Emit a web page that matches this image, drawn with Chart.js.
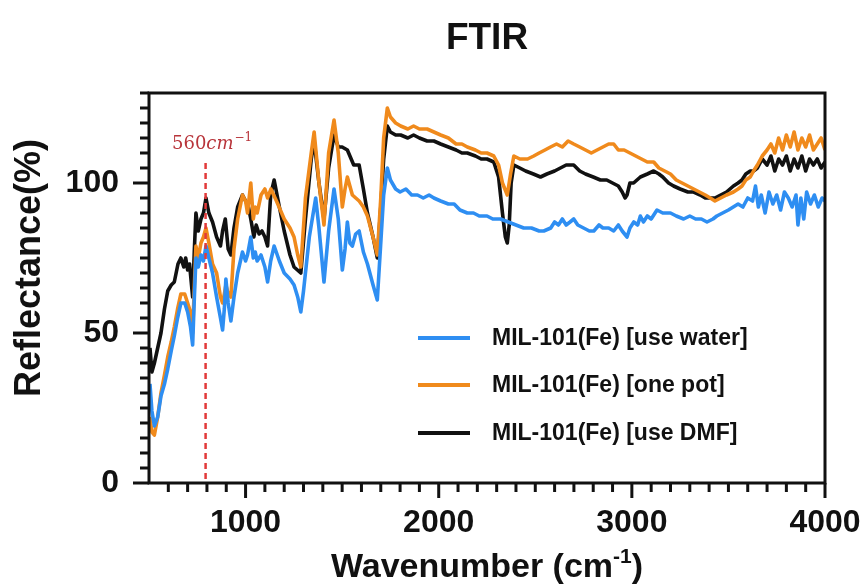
<!DOCTYPE html>
<html>
<head>
<meta charset="utf-8">
<script src="https://cdn.jsdelivr.net/npm/chart.js@4"></script>
<style>
  html, body { margin: 0; padding: 0; background: #ffffff; }
  #wrap { width: 865px; height: 584px; }
</style>
</head>
<body>
<div id="wrap"><canvas id="c" width="865" height="584"></canvas></div>
<script>
// ---------------- DATA ----------------
const chartTitle = "FTIR";
const xAxisTitle = "Wavenumber (cm";
const xAxisTitleSup = "-1";
const yAxisTitle = "Reflectance(%)";
const seriesLabels = ["MIL-101(Fe) [use water]", "MIL-101(Fe) [one pot]", "MIL-101(Fe) [use DMF]"];
const seriesColors = ["#2e8ef2", "#f08a1c", "#111111"];
const xTickLabels = [1000, 2000, 3000, 4000];
const yTickLabels = [0, 50, 100];
const markerWave = 793;
const markerLabel = ["560", "cm", "\u22121"];

const waterWave = [505,515,528,545,562,580,597,615,631,648,665,685,700,715,726,735,743,755,769,782,795,810,829,850,870,881,890,898,910,924,940,959,984,1000,1010,1027,1040,1050,1060,1080,1100,1114,1130,1148,1175,1200,1230,1251,1270,1286,1300,1330,1363,1380,1406,1430,1458,1480,1501,1515,1527,1540,1553,1570,1588,1610,1631,1660,1682,1700,1715,1734,1750,1777,1800,1830,1860,1890,1920,1950,1975,2010,2050,2080,2110,2148,2180,2210,2250,2280,2320,2360,2400,2440,2480,2520,2544,2580,2600,2620,2640,2660,2680,2699,2720,2750,2780,2803,2830,2850,2880,2906,2930,2950,2975,2990,3010,3030,3044,3060,3080,3100,3130,3160,3200,3230,3268,3300,3330,3360,3389,3420,3440,3470,3500,3525,3550,3575,3600,3625,3640,3655,3670,3690,3710,3730,3750,3770,3790,3810,3830,3850,3860,3875,3890,3905,3925,3945,3965,3985,4000];
const waterVals = [33,24,19,22,29,33,38,44,49,55,60,60,57,52,46,62,75,72,76,74,79,75,70,62,55,51,58,68,60,54,62,70,77,74,76,82,75,77,74,76,72,67,74,79,74,70,68,66,62,57,64,82,95,85,67,84,98,88,71,78,87,80,79,83,84,77,73,66,61,80,96,105,101,98,97,98,96,96,95,96,95,94,93,93,91,90,90,89,89,88,88,87,86,85,85,84,84,85,87,86,88,86,87,88,86,85,84,84,86,85,85,84,86,84,82,85,87,86,89,87,89,88,91,90,90,89,88,89,88,88,87,88,89,90,91,92,93,92,95,94,99,92,96,90,97,93,96,91,97,95,92,96,86,95,88,97,93,96,92,95,94];

const onePotWave = [505,515,528,545,562,580,597,615,631,648,665,685,700,715,726,735,743,755,769,782,795,810,829,850,870,881,890,898,910,924,940,959,984,1000,1010,1027,1040,1050,1060,1080,1100,1114,1131,1160,1200,1230,1251,1270,1286,1310,1340,1355,1380,1406,1430,1458,1480,1501,1515,1527,1553,1588,1610,1631,1660,1682,1700,1715,1734,1750,1777,1803,1840,1870,1900,1940,1975,2010,2050,2090,2120,2148,2190,2220,2250,2285,2310,2330,2355,2372,2389,2420,2460,2492,2520,2550,2579,2610,2640,2670,2699,2730,2760,2790,2820,2850,2880,2906,2930,2960,2990,3020,3050,3080,3113,3140,3170,3200,3230,3260,3290,3320,3350,3380,3406,3430,3460,3490,3526,3550,3570,3590,3613,3630,3650,3675,3700,3720,3740,3760,3780,3800,3820,3840,3860,3880,3900,3920,3940,3960,3980,4000];
const onePotVals = [22,17,16,22,30,36,42,47,52,58,63,63,60,57,50,66,79,75,80,82,85,80,73,70,62,60,63,66,63,62,78,88,96,94,90,100,88,92,90,96,98,95,98,94,88,85,82,76,72,95,110,117,100,86,110,121,110,92,98,102,96,94,92,89,82,76,95,115,125,122,120,119,118,119,118,118,117,116,115,113,113,112,111,110,110,109,106,100,96,103,109,108,108,109,110,111,112,113,112,114,113,112,111,110,111,112,113,113,111,111,110,109,108,107,107,105,104,103,101,100,99,98,97,96,95,94,95,96,97,98,99,101,102,104,106,109,111,113,110,115,111,116,112,117,111,115,112,116,111,113,115,111];

const dmfWave = [505,515,528,545,562,580,597,615,631,650,665,680,690,700,710,726,735,743,755,769,782,795,810,829,850,870,881,895,910,924,940,959,984,1000,1015,1027,1043,1055,1070,1085,1100,1114,1130,1148,1175,1200,1230,1251,1286,1310,1340,1355,1380,1406,1430,1458,1480,1500,1527,1560,1588,1610,1631,1660,1682,1700,1715,1734,1750,1777,1803,1840,1870,1900,1940,1975,2010,2050,2090,2120,2148,2190,2220,2250,2285,2310,2330,2345,2355,2365,2375,2389,2420,2450,2490,2527,2560,2600,2630,2660,2699,2730,2760,2800,2837,2870,2900,2930,2950,2965,2975,2990,3009,3044,3080,3113,3140,3160,3190,3216,3250,3290,3320,3354,3380,3406,3430,3460,3490,3526,3550,3570,3590,3613,3630,3650,3675,3700,3720,3740,3760,3780,3800,3820,3840,3860,3880,3900,3920,3940,3960,3980,4000];
const dmfVals = [45,37,40,45,50,58,64,66,67,73,75,72,75,71,73,62,78,90,84,88,90,95,90,87,82,79,84,88,78,76,85,92,96,94,92,88,82,86,83,84,82,79,96,101,92,84,76,72,70,88,108,114,100,88,105,116,112,112,111,106,106,98,90,82,75,92,108,119,117,116,116,115,116,115,114,114,113,112,111,110,110,109,108,108,107,102,90,82,80,86,100,106,105,104,103,102,103,104,105,106,106,104,103,102,101,101,100,99,97,95,96,100,100,102,103,104,103,102,100,99,98,97,97,96,95,95,95,96,97,99,100,101,103,104,104,105,108,106,109,104,108,106,109,104,108,105,109,104,108,106,108,105,107];

// ---------------- BUILD ----------------
function toPoints(wave, vals) { return wave.map((w, i) => ({ x: w, y: vals[i] })); }

const FONT = "'Liberation Sans', Arial, sans-serif";

const decorPlugin = {
  id: 'decor',
  afterDatasetsDraw(chart) {
    const ctx = chart.ctx;
    const xs = chart.scales.x;
    const area = chart.chartArea;
    const mx = xs.getPixelForValue(markerWave);
    ctx.save();
    ctx.strokeStyle = '#e23a3a';
    ctx.lineWidth = 2.5;
    ctx.setLineDash([6, 4]);
    ctx.beginPath();
    ctx.moveTo(mx, 163);
    ctx.lineTo(mx, area.bottom);
    ctx.stroke();
    ctx.restore();
  },
  afterDraw(chart) {
    const ctx = chart.ctx;
    const xs = chart.scales.x, ys = chart.scales.y;
    const area = chart.chartArea;
    ctx.save();
    ctx.strokeStyle = '#111';
    ctx.lineWidth = 3;
    ctx.strokeRect(area.left, area.top, area.right - area.left, area.bottom - area.top);
    for (let v = xs.min; v <= xs.max + 0.1; v += 100) {
      if (v === xs.min) continue;
      const px = xs.getPixelForValue(v);
      const major = xTickLabels.includes(v);
      ctx.beginPath();
      ctx.moveTo(px, area.bottom);
      ctx.lineTo(px, area.bottom + (major ? 15 : 9));
      ctx.stroke();
    }
    for (let v = ys.min; v <= ys.max + 0.01; v += 5) {
      const py = ys.getPixelForValue(v);
      const major = yTickLabels.includes(v);
      ctx.beginPath();
      ctx.moveTo(area.left, py);
      ctx.lineTo(area.left - (major ? 16 : 9), py);
      ctx.stroke();
    }
    ctx.fillStyle = '#111';
    ctx.textAlign = 'center';
    ctx.textBaseline = 'middle';
    ctx.font = "bold 37px " + FONT;
    ctx.fillText(chartTitle, (area.left + area.right) / 2, 39);
    ctx.font = "bold 34px " + FONT;
    const mainW = ctx.measureText(xAxisTitle).width;
    ctx.font = "bold 21px " + FONT;
    const supW = ctx.measureText(xAxisTitleSup).width;
    ctx.font = "bold 34px " + FONT;
    const closeW = ctx.measureText(")").width;
    const total = mainW + supW + closeW;
    const sx = (area.left + area.right) / 2 - total / 2;
    ctx.textAlign = 'left';
    ctx.textBaseline = 'alphabetic';
    const baseY = 577;
    ctx.fillText(xAxisTitle, sx, baseY);
    ctx.font = "bold 21px " + FONT;
    ctx.fillText(xAxisTitleSup, sx + mainW, baseY - 14);
    ctx.font = "bold 34px " + FONT;
    ctx.fillText(")", sx + mainW + supW, baseY);
    ctx.save();
    ctx.translate(30, 268);
    ctx.rotate(-Math.PI / 2);
    ctx.font = "bold 36px " + FONT;
    ctx.textAlign = 'center';
    ctx.textBaseline = 'middle';
    ctx.fillText(yAxisTitle, 0, 0);
    ctx.restore();
    ctx.fillStyle = '#b8343a';
    ctx.textBaseline = 'alphabetic';
    ctx.textAlign = 'left';
    let lx = 172;
    const ly = 149;
    ctx.font = "18px 'DejaVu Serif', serif";
    ctx.fillText(markerLabel[0], lx, ly);
    lx += ctx.measureText(markerLabel[0]).width;
    ctx.font = "italic 18px 'DejaVu Serif', serif";
    ctx.fillText(markerLabel[1], lx, ly);
    lx += ctx.measureText(markerLabel[1]).width + 1;
    ctx.font = "12px 'DejaVu Serif', serif";
    ctx.fillText(markerLabel[2], lx, ly - 8);
    const legY = [338, 385, 433];
    chart.data.datasets.forEach((ds, i) => {
      ctx.strokeStyle = ds.borderColor;
      ctx.lineWidth = 4;
      ctx.setLineDash([]);
      ctx.beginPath();
      ctx.moveTo(418, legY[i]);
      ctx.lineTo(470, legY[i]);
      ctx.stroke();
      ctx.fillStyle = '#111';
      ctx.font = "bold 23px " + FONT;
      ctx.textBaseline = 'middle';
      ctx.fillText(ds.label, 492, legY[i] + 1);
    });
    ctx.restore();
  }
};

const datasets = [
  { label: seriesLabels[0], data: toPoints(waterWave, waterVals), borderColor: seriesColors[0], order: 0 },
  { label: seriesLabels[1], data: toPoints(onePotWave, onePotVals), borderColor: seriesColors[1], order: 1 },
  { label: seriesLabels[2], data: toPoints(dmfWave, dmfVals), borderColor: seriesColors[2], order: 2 }
].map(d => Object.assign(d, { borderWidth: 3.6, pointRadius: 0, tension: 0, fill: false, borderJoinStyle: 'round' }));

new Chart(document.getElementById('c'), {
  type: 'line',
  data: { datasets },
  options: {
    responsive: false,
    devicePixelRatio: 1,
    animation: false,
    layout: { padding: { top: 93, right: 40, left: 0, bottom: 0 } },
    plugins: { legend: { display: false }, tooltip: { enabled: false }, title: { display: false } },
    scales: {
      x: {
        type: 'linear', min: 500, max: 4000,
        grid: { display: false, drawTicks: false },
        border: { display: false },
        ticks: {
          stepSize: 100, autoSkip: false, maxRotation: 0, minRotation: 0,
          padding: 21, color: '#111',
          font: { family: FONT, size: 32, weight: 'bold' },
          callback: (v) => xTickLabels.includes(v) ? String(v) : ''
        },
        afterFit(s) { s.height = 101; s.paddingLeft = 0; s.paddingRight = 0; }
      },
      y: {
        type: 'linear', min: 0, max: 130,
        grid: { display: false, drawTicks: false },
        border: { display: false },
        ticks: {
          stepSize: 5, autoSkip: false, padding: 30, color: '#111',
          font: { family: FONT, size: 32, weight: 'bold' },
          callback: (v) => yTickLabels.includes(v) ? String(v) : ''
        },
        afterFit(s) { s.width = 149; s.paddingTop = 0; s.paddingBottom = 0; }
      }
    }
  },
  plugins: [decorPlugin]
});
</script>
</body>
</html>
